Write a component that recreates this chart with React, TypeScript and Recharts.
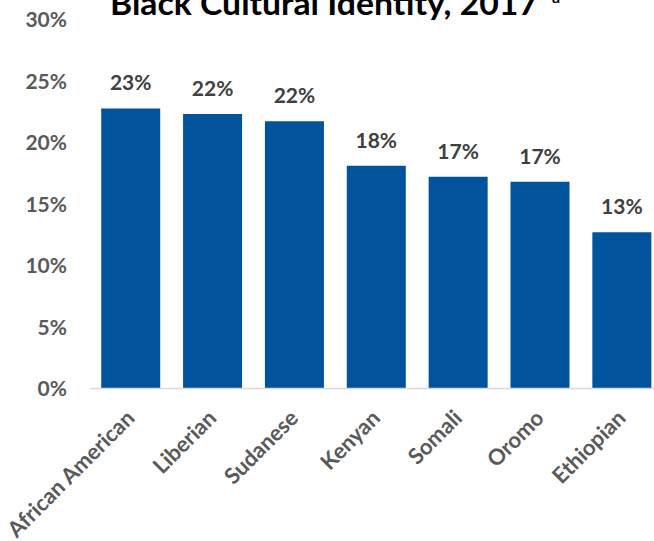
import React from "react";
import { BarChart, Bar, XAxis, YAxis, LabelList } from "recharts";

const categories = ["African American", "Liberian", "Sudanese", "Kenyan", "Somali", "Oromo", "Ethiopian"];
const values = [22.8, 22.35, 21.75, 18.14, 17.24, 16.84, 12.72];
const yTicks = [0, 5, 10, 15, 20, 25, 30];
const titleText = "Black Cultural Identity, 2017";
const titleNote = "a";

const data = categories.map((name, i) => ({ name, value: values[i] }));

const FONT = "Lato, 'Open Sans', sans-serif";

function XTick(props: any) {
  const { x, y, payload } = props;
  const ax = x + 5;
  const ay = y + 31;
  return (
    <text
      x={ax}
      y={ay}
      transform={`rotate(-45, ${ax}, ${ay})`}
      textAnchor="end"
      fill="#595959"
      fontSize={22}
      fontWeight="bold"
      fontFamily={FONT}
    >
      {payload.value}
    </text>
  );
}

export default function App() {
  return (
    <div style={{ position: "absolute", left: 0, top: 0, width: 654, height: 541, overflow: "hidden", background: "#fff" }}>
      <div style={{ position: "absolute", left: 0, top: -20 }}>
        <BarChart
          width={680}
          height={561}
          data={data}
          margin={{ top: 40, right: 17, left: 0, bottom: 32.5 }}
          barCategoryGap="13.7%"
        >
          <XAxis
            dataKey="name"
            height={120}
            interval={0}
            tickLine={false}
            tickSize={0}
            tickMargin={0}
            axisLine={{ stroke: "#D9D9D9", strokeWidth: 1.5 }}
            tick={<XTick />}
          />
          <YAxis
            width={90}
            domain={[0, 30]}
            ticks={yTicks}
            interval={0}
            axisLine={false}
            tickLine={false}
            tickSize={0}
            tickMargin={23}
            tickFormatter={(v: number) => `${v}%`}
            tick={{ fill: "#595959", fontSize: 21, fontWeight: "bold", fontFamily: FONT }}
          />
          <Bar dataKey="value" fill="#01539B" isAnimationActive={false}>
            <LabelList
              dataKey="value"
              position="top"
              offset={18}
              formatter={(v: any) => `${Math.round(Number(v))}%`}
              fill="#404040"
              fontSize={21}
              fontWeight="bold"
              fontFamily={FONT}
            />
          </Bar>
        </BarChart>
      </div>
      <svg style={{ position: "absolute", left: 0, top: 0 }} width={654} height={40}>
        <text
          x={110}
          y={15}
          textLength={428}
          lengthAdjust="spacingAndGlyphs"
          fontSize={33}
          fontWeight="bold"
          fontFamily={FONT}
          fill="#000"
        >
          {titleText}
        </text>
        <text x={552} y={3} fontSize={16} fontWeight="bold" fontFamily={FONT} fill="#000">
          {titleNote}
        </text>
      </svg>
    </div>
  );
}
